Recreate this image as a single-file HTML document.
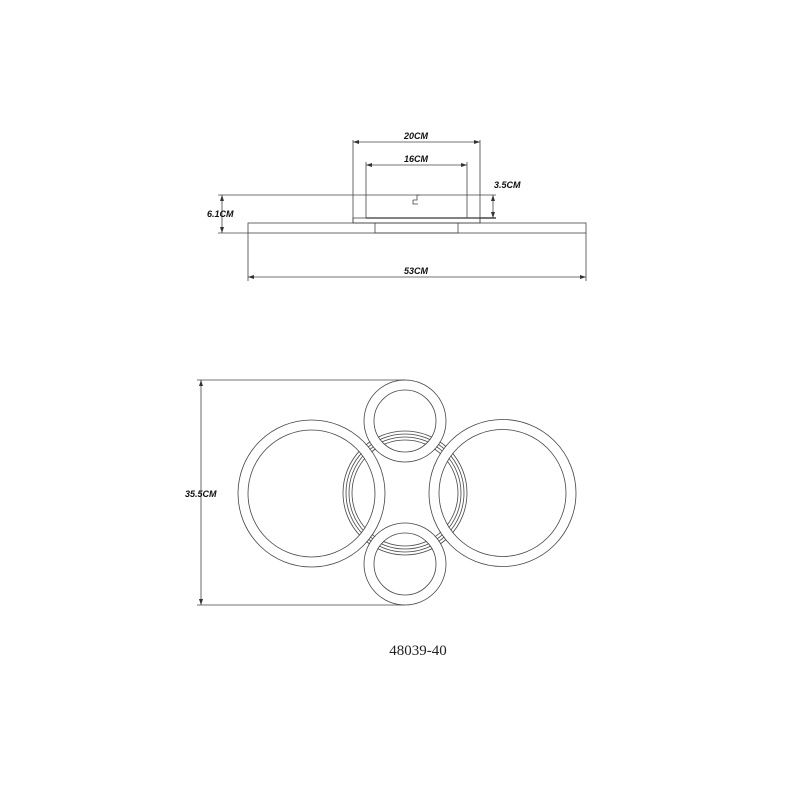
<!DOCTYPE html>
<html><head><meta charset="utf-8"><style>
html,body{margin:0;padding:0;background:#fff;}
svg{display:block;}
.d{font-family:"Liberation Sans",sans-serif;font-weight:bold;font-style:italic;font-size:9px;fill:#111;}
</style></head><body>
<svg width="800" height="800" viewBox="0 0 800 800" xmlns="http://www.w3.org/2000/svg">
<defs>
<marker id="a" markerWidth="6" markerHeight="6" refX="6" refY="3" orient="auto-start-reverse" markerUnits="userSpaceOnUse"><path d="M0,1 L6,3 L0,5 Z" fill="#333"/></marker>
</defs>
<g stroke="#444" stroke-width="0.8" fill="none">
<!-- side view -->
<line x1="353" y1="140" x2="353" y2="223"/>
<line x1="480" y1="140" x2="480" y2="223"/>
<line x1="353" y1="142" x2="480" y2="142" marker-start="url(#a)" marker-end="url(#a)"/>
<line x1="366" y1="162" x2="366" y2="218"/>
<line x1="467" y1="162" x2="467" y2="218"/>
<line x1="366" y1="165" x2="467" y2="165" marker-start="url(#a)" marker-end="url(#a)"/>
<line x1="218" y1="195" x2="496" y2="195"/>
<line x1="366" y1="218" x2="496" y2="218" stroke="#222" stroke-width="1.2"/>
<rect x="353" y="218" width="127" height="5"/>
<path d="M413,200 h4 v-5 h3"/>
<path d="M413,200 v4 h5"/>
<line x1="493" y1="195" x2="493" y2="218" marker-start="url(#a)" marker-end="url(#a)"/>
<rect x="248" y="223" width="338" height="10"/>
<rect x="375" y="223" width="83" height="10"/>
<line x1="218" y1="233" x2="248" y2="233"/>
<line x1="222" y1="195" x2="222" y2="233" marker-start="url(#a)" marker-end="url(#a)"/>
<line x1="248" y1="233" x2="248" y2="281"/>
<line x1="586" y1="233" x2="586" y2="281"/>
<line x1="248" y1="277" x2="586" y2="277" marker-start="url(#a)" marker-end="url(#a)"/>
<!-- top view dims -->
<line x1="197" y1="380" x2="405" y2="380"/>
<line x1="197" y1="605" x2="405" y2="605"/>
<line x1="201" y1="380" x2="201" y2="605" marker-start="url(#a)" marker-end="url(#a)"/>
<!-- central rings -->
<circle cx="405" cy="493" r="53"/>
<circle cx="405" cy="493" r="56"/>
<circle cx="405" cy="493" r="59"/>
<circle cx="405" cy="493" r="62"/>
</g>
<g fill="none">
<circle cx="405" cy="421" r="36" stroke="#fff" stroke-width="9"/>
<circle cx="405" cy="564" r="36" stroke="#fff" stroke-width="9"/>
<circle cx="311.5" cy="493.5" r="68.5" stroke="#fff" stroke-width="9"/>
<circle cx="502.5" cy="493" r="68.5" stroke="#fff" stroke-width="9"/>
</g>
<g stroke="#444" stroke-width="0.8" fill="none">
<circle cx="405" cy="421" r="41"/>
<circle cx="405" cy="421" r="31"/>
<circle cx="405" cy="564" r="41"/>
<circle cx="405" cy="564" r="31"/>
<circle cx="311.5" cy="493.5" r="73.5"/>
<circle cx="311.5" cy="493.5" r="63.5"/>
<circle cx="502.5" cy="493" r="73.5"/>
<circle cx="502.5" cy="493" r="63.5"/>
</g>
<text class="d" x="416" y="139" text-anchor="middle">20CM</text>
<text class="d" x="416" y="162" text-anchor="middle">16CM</text>
<text class="d" x="494" y="188">3.5CM</text>
<text class="d" x="207" y="217">6.1CM</text>
<text class="d" x="416" y="274" text-anchor="middle">53CM</text>
<text class="d" x="185" y="497">35.5CM</text>
<text x="418" y="655" text-anchor="middle" font-family="Liberation Serif,serif" font-size="15" fill="#222">48039-40</text>
</svg>
</body></html>
